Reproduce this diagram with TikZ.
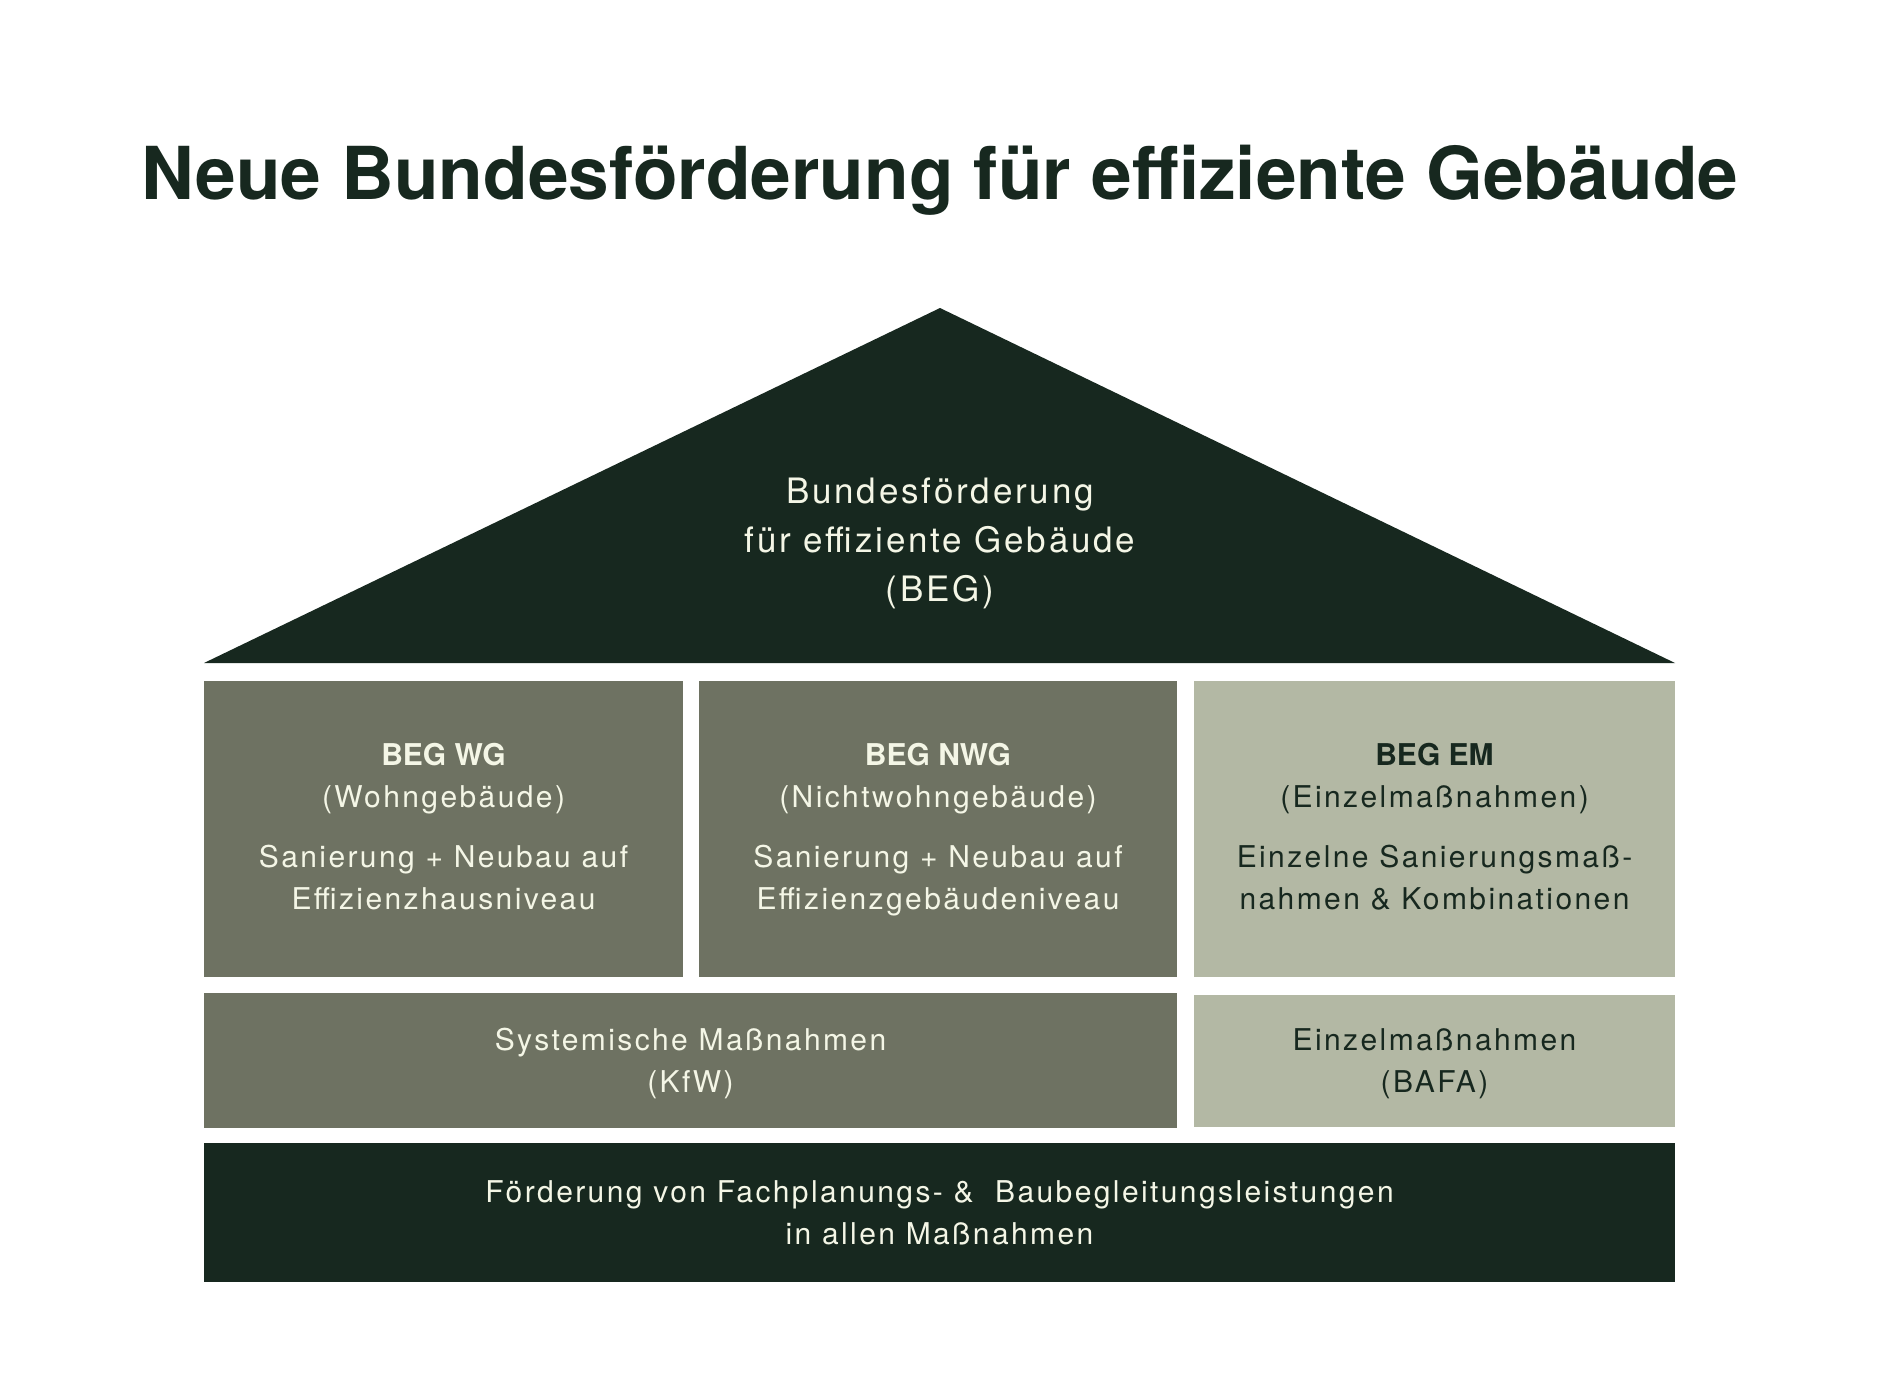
\documentclass[tikz,border=0pt]{standalone}
\usepackage{fontspec}
\setmainfont{TeX Gyre Heros}[LetterSpace=8,BoldFeatures={LetterSpace=0}]
\definecolor{roofgreen}{HTML}{17281F}
\definecolor{wallgreen}{HTML}{6E7262}
\definecolor{sagegreen}{HTML}{B3B8A4}
\definecolor{creamtext}{HTML}{F4F6E6}
\tikzset{
	block/.style={rectangle,inner sep=0pt,align=center,font=\fontsize{30}{42}\selectfont},
	darkblock/.style={block,fill=wallgreen,text=creamtext},
	lightblock/.style={block,fill=sagegreen,text=roofgreen},
	baseblock/.style={block,fill=roofgreen,text=creamtext},
	upper/.style={minimum height=296,text depth=6pt},
	lower/.style={text depth=-6pt}
}

\begin{document}
\begin{tikzpicture}[x=1pt,y=-1pt]
	\useasboundingbox[fill=white](0,0)rectangle(1880,1400);
	\node[anchor=base,text=roofgreen,font=\fontsize{73}{80}\selectfont\bfseries](title)at(940,199){Neue Bundesförderung für effiziente Gebäude};
	
	\coordinate(eaveL)at(204,663);
	\coordinate(eaveR)at(1675,663);
	\coordinate(ridge)at(940,308);
	\fill[roofgreen](eaveL)--(ridge)--(eaveR)--cycle;
	\node[text=creamtext,align=center,font=\fontsize{35}{49}\selectfont](beg)at(940,543){Bundesförderung\\für effiziente Gebäude\\(BEG)};
	
	\node[darkblock,upper,minimum width=479](wg)at(443.5,829){\textbf{BEG WG}\\(Wohngebäude)\\[18pt]Sanierung + Neubau auf\\Effizienzhausniveau};
	\node[darkblock,upper,minimum width=478](nwg)at(938,829){\textbf{BEG NWG}\\(Nichtwohngebäude)\\[18pt]Sanierung + Neubau auf\\Effizienzgebäudeniveau};
	\node[lightblock,upper,minimum width=481](em)at(1434.5,829){\textbf{BEG EM}\\(Einzelmaßnahmen)\\[18pt]Einzelne Sanierungsmaß-\\nahmen \& Kombinationen};
	
	\node[darkblock,lower,minimum width=973,minimum height=135](kfw)at(690.5,1060.5){Systemische Maßnahmen\\(KfW)};
	\node[lightblock,lower,minimum width=481,minimum height=132](bafa)at(1434.5,1061){Einzelmaßnahmen\\(BAFA)};
	
	\node[baseblock,minimum width=1471,minimum height=139,text depth=-5pt](fach)at(939.5,1212.5){Förderung von Fachplanungs- \&\ \ Baubegleitungsleistungen\\in allen Maßnahmen};
\end{tikzpicture}
\end{document}
